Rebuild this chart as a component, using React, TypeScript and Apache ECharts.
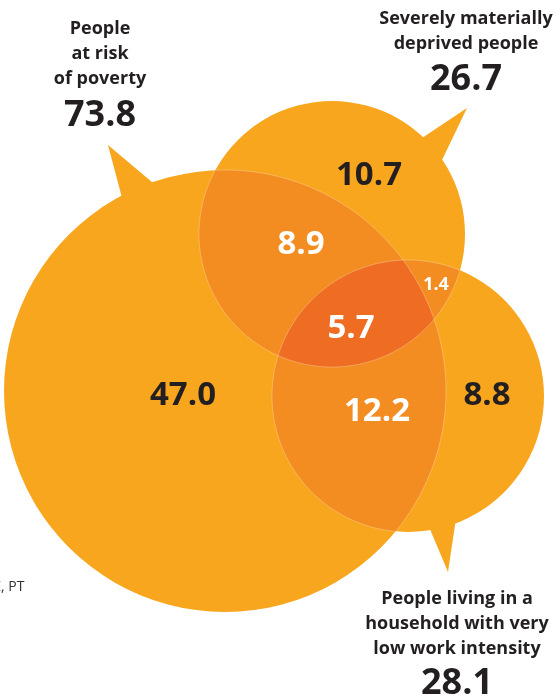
import React, { useEffect, useRef } from "react";
import * as echarts from "echarts";

// ---- data ----
const setNames = [
  "People\nat risk\nof poverty",
  "Severely materially\ndeprived people",
  "People living in a\nhousehold with very\nlow work intensity",
];
const setTotals = [73.8, 26.7, 28.1];
const regionKeys = ["A", "B", "C", "AB", "AC", "BC", "ABC"];
const regionValues = [47.0, 10.7, 8.8, 8.9, 12.2, 1.4, 5.7];
const footnote = ", PT";

// ---- layout (pixel-like units on hidden 556 x 698 value axes) ----
const CIRCLES = [
  { cx: 225, cy: 391, r: 221 },
  { cx: 332, cy: 234, r: 133 },
  { cx: 408, cy: 396, r: 136 },
];
const POINTERS = [
  [[108, 145], [165, 193], [126, 213]],
  [[467, 108], [404, 150], [430, 185]],
  [[448, 572], [424, 515], [458, 505]],
];
const TITLE_POS = [
  { x: 100, top: 14.5, vy: 112 },
  { x: 466, top: 4.5, vy: 76 },
  { x: 457, top: 584.5, vy: 680 },
];
const LABEL_POS = [
  [183, 392],
  [369, 172],
  [487, 392],
  [301, 241],
  [377, 408],
  [436, 283],
  [351, 325],
];

const BASE = "#F7A61E";
const MID = "#F38D22";
const DARK = "#EF6D22";
const INK = "#231F20";
const FONT = "'Open Sans', 'Noto Sans', sans-serif";

function inside(j: number, x: number, y: number, tol = 0.01) {
  const c = CIRCLES[j];
  return (x - c.cx) ** 2 + (y - c.cy) ** 2 <= c.r * c.r * (1 + tol);
}

function regionPolygon(m: number[]) {
  const pts: number[][] = [];
  const N = 1440;
  for (const i of m) {
    const c = CIRCLES[i];
    for (let k = 0; k < N; k++) {
      const a = (2 * Math.PI * k) / N;
      const x = c.cx + c.r * Math.cos(a);
      const y = c.cy + c.r * Math.sin(a);
      if (m.every((j) => j === i || inside(j, x, y, 0.0005))) pts.push([x, y]);
    }
  }
  let mx = 0,
    my = 0;
  pts.forEach((p) => {
    mx += p[0];
    my += p[1];
  });
  mx /= pts.length;
  my /= pts.length;
  pts.sort(
    (p, q) => Math.atan2(p[1] - my, p[0] - mx) - Math.atan2(q[1] - my, q[0] - mx)
  );
  return pts;
}

function innerArcs(i: number) {
  const c = CIRCLES[i];
  const N = 1440;
  const flags: boolean[] = [];
  const pts: number[][] = [];
  for (let k = 0; k < N; k++) {
    const a = (2 * Math.PI * k) / N;
    const x = c.cx + c.r * Math.cos(a);
    const y = c.cy + c.r * Math.sin(a);
    pts.push([x, y]);
    flags.push(CIRCLES.some((_, j) => j !== i && inside(j, x, y, -0.002)));
  }
  let start = flags.findIndex((f) => !f);
  if (start < 0) start = 0;
  const runs: number[][][] = [];
  let cur: number[][] | null = null;
  for (let s = 0; s <= N; s++) {
    const k = (start + s) % N;
    if (flags[k]) {
      if (!cur) cur = [];
      cur.push(pts[k]);
    } else if (cur) {
      runs.push(cur);
      cur = null;
    }
  }
  if (cur) runs.push(cur);
  return runs;
}

export default function App() {
  const ref = useRef<HTMLDivElement>(null);
  useEffect(() => {
    document.body.style.margin = "0";
    if (!ref.current) return;
    const chart = echarts.init(ref.current, null, { renderer: "svg" });
    const option: any = {
      animation: false,
      grid: { left: 0, right: 0, top: 0, bottom: 0 },
      xAxis: { type: "value", min: 0, max: 556, show: false },
      yAxis: { type: "value", min: 0, max: 698, inverse: true, show: false },
      tooltip: { show: false },
      series: [
        {
          type: "custom",
          name: "sets",
          z: 1,
          clip: false,
          data: setTotals.map((v, i) => [i, v]),
          renderItem: (params: any, api: any) => {
            const i = params.dataIndex;
            const c = CIRCLES[i];
            const [px, py] = api.coord([c.cx, c.cy]);
            const pr = api.size([c.r, 0])[0];
            const ptr = POINTERS[i].map((p) => api.coord(p));
            const t = TITLE_POS[i];
            const [tx, ty] = api.coord([t.x, t.top]);
            const [vx, vy] = api.coord([t.x, t.vy]);
            return {
              type: "group",
              children: [
                { type: "polygon", shape: { points: ptr }, style: { fill: BASE } },
                { type: "circle", shape: { cx: px, cy: py, r: pr }, style: { fill: BASE } },
                {
                  type: "text",
                  z2: 50,
                  style: {
                    text: setNames[i],
                    x: tx,
                    y: ty,
                    align: "center",
                    verticalAlign: "top",
                    fontSize: 18,
                    fontWeight: 700,
                    fontFamily: FONT,
                    lineHeight: 25,
                    fill: INK,
                  },
                },
                {
                  type: "text",
                  z2: 50,
                  style: {
                    text: setTotals[i].toFixed(1),
                    x: vx,
                    y: vy,
                    align: "center",
                    verticalAlign: "middle",
                    fontSize: 36,
                    fontWeight: 700,
                    fontFamily: FONT,
                    fill: INK,
                  },
                },
              ],
            };
          },
        },
        {
          type: "custom",
          name: "regions",
          z: 2,
          clip: false,
          data: regionValues.map((v, i) => [i, v]),
          renderItem: (params: any, api: any) => {
            const i = params.dataIndex;
            const m = regionKeys[i].split("").map((ch) => "ABC".indexOf(ch));
            const children: any[] = [];
            if (m.length > 1) {
              const pts = regionPolygon(m).map((p) => api.coord(p));
              children.push({
                type: "polygon",
                shape: { points: pts },
                style: { fill: m.length === 3 ? DARK : MID },
              });
            }
            return { type: "group", children };
          },
        },
        {
          type: "custom",
          name: "edges",
          z: 3,
          clip: false,
          data: setTotals.map((v, i) => [i, v]),
          renderItem: (params: any, api: any) => {
            const runs = innerArcs(params.dataIndex);
            return {
              type: "group",
              children: runs.map((r) => ({
                type: "polyline",
                shape: { points: r.map((p) => api.coord(p)) },
                style: { stroke: "rgba(255,255,255,0.28)", lineWidth: 1, fill: null },
              })),
            };
          },
        },
        {
          type: "custom",
          name: "labels",
          z: 4,
          clip: false,
          data: regionValues.map((v, i) => [i, v]),
          renderItem: (params: any, api: any) => {
            const i = params.dataIndex;
            const n = regionKeys[i].length;
            const [x, y] = api.coord(LABEL_POS[i]);
            return {
              type: "text",
              style: {
                text: regionValues[i].toFixed(1),
                x,
                y,
                align: "center",
                verticalAlign: "middle",
                fontSize: regionKeys[i] === "BC" ? 18 : 33,
                fontWeight: 700,
                fontFamily: FONT,
                fill: n > 1 ? "#FFFFFF" : INK,
              },
            };
          },
        },
      ],
      graphic: [
        {
          type: "text",
          x: -7,
          y: 578,
          style: {
            text: "{b|Z}{n|" + footnote + "}",
            rich: {
              b: { fill: "#1C8FD0", fontSize: 14, fontFamily: FONT },
              n: { fill: "#333333", fontSize: 14, fontFamily: FONT },
            },
          },
        },
      ],
    };
    chart.setOption(option);
    return () => chart.dispose();
  }, []);
  return (
    <div style={{ position: "fixed", left: 0, top: 0, width: 556, height: 698 }}>
      <div ref={ref} style={{ width: 556, height: 698 }} />
    </div>
  );
}
